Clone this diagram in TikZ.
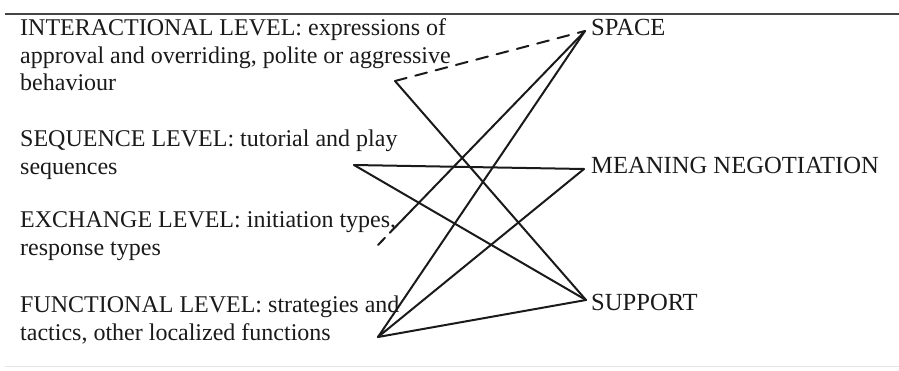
\documentclass[tikz,border=0pt]{standalone}
\usepackage{fontspec}
\setmainfont{Liberation Serif}
\usepackage{tikz}
\usetikzlibrary{positioning,calc}
\definecolor{rulegrey}{HTML}{444444}
\definecolor{inkc}{HTML}{1A1A1A}

\begin{document}
\begin{tikzpicture}[x=1pt, y=-1pt,
        level/.style={anchor=north west, inner sep=0pt, align=left, text=inkc, font=\fontsize{24}{27.6}\selectfont},
        area/.style={anchor=base west, inner sep=0pt, text=inkc, font=\fontsize{24.6}{27}\selectfont},
        link/.style={draw=inkc, line width=2pt, line cap=round},
        dlink/.style={link, dash pattern=on 12pt off 9pt}]
      \useasboundingbox (0,0) rectangle (899,370);
      \draw[rulegrey, line width=2.6pt] (5,14) -- (899,14);
      \draw[black!10, line width=0.6pt] (5,366) -- (899,366);
      % levels on the left
      \node[level] (inter) at (20,18.6) {INTERACTIONAL LEVEL: expressions of\\approval and overriding, polite or aggressive\\behaviour};
      \node[level] (seq) at (20,129.6) {SEQUENCE LEVEL: tutorial and play\\sequences};
      \node[level] (exch) at (20,211.6) {EXCHANGE LEVEL: initiation types,\\response types};
      \node[level] (func) at (20,295.6) {FUNCTIONAL LEVEL: strategies and\\tactics, other localized functions};
      % areas on the right
      \foreach \y/\name/\txt in {35/space/SPACE, 173/mean/MEANING NEGOTIATION, 310/supp/SUPPORT}{
        \node[area] (\name) at (591,\y) {\txt};
      }
      \coordinate (ip) at (395,81);
      \coordinate (sp) at (354,165);
      \coordinate (ep) at (378,245);
      \coordinate (fp) at (378,337);
      \coordinate (spacep) at (585,31);
      \coordinate (meanp) at (584,169);
      \coordinate (suppp) at (586,300);
      \draw[dlink] (ip) -- (spacep);
      \draw[link] (ip) -- (suppp);
      \draw[link] (sp) -- (meanp);
      \draw[link] (sp) -- (suppp);
      \draw[link, dash pattern=on 10pt off 7pt on 600pt] (ep) -- (spacep);
      \draw[link] (fp) -- (spacep);
      \draw[link] (fp) -- (meanp);
      \draw[link] (fp) -- (suppp);
    \end{tikzpicture}
\end{document}
